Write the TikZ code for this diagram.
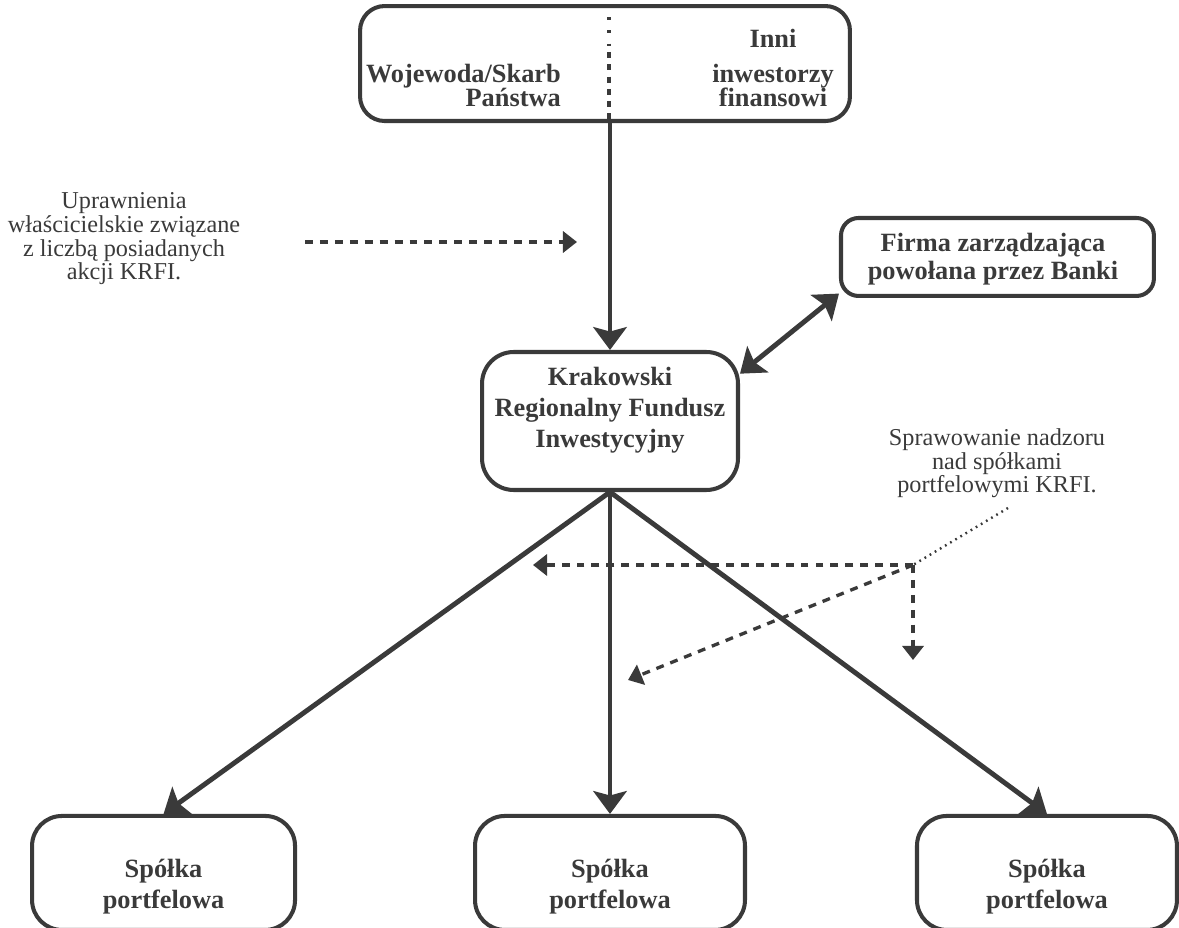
\documentclass[tikz,border=0pt]{standalone}
\usepackage{fontspec}
\setmainfont{Liberation Serif}
\usetikzlibrary{arrows.meta, positioning}
\definecolor{inkgray}{RGB}{58,58,58}
\tikzset{
>={Stealth[length=13pt, width=19pt, inset=2.5pt]}, % big solid arrow heads
box/.style={draw=inkgray, line width=2.3pt, rounded corners=15pt, inner sep=0pt}, % rounded frames
boxtext/.style={text=inkgray, align=center, font={\fontsize{15pt}{17.5pt}\selectfont\bfseries}}, % bold text in frames
note/.style={text=inkgray, align=center, font={\fontsize{13.8pt}{13.6pt}\selectfont}}, % side remarks
link/.style={->, draw=inkgray, line width=2.8pt}, % solid connectors
hint/.style={-{Triangle[length=8pt, width=12pt]}, draw=inkgray, line width=1.9pt, dash pattern=on 4.5pt off 4pt}, % dashed arrows
pointer/.style={draw=inkgray, line width=1.4pt, dash pattern=on 1pt off 2.4pt}, % dotted leader
divider/.style={draw=inkgray, line width=2pt, dash pattern=on 3.5pt off 3.5pt}, % split in the top frame
}
\begin{document}
\begin{tikzpicture}[x=0.02cm, y=-0.02cm]
\useasboundingbox (0,0) rectangle (1179,928);

% frames
\node[box, minimum width=5.12cm, minimum height=2.76cm, rounded corners=18pt] (krfi) at (610,421) {};
\node[box, minimum width=9.8cm, minimum height=2.3cm, rounded corners=14pt, above=4.54cm of krfi, xshift=-0.1cm] (top) {};
\node[box, minimum width=6.26cm, minimum height=1.56cm, rounded corners=10pt, above right=1.04cm and 1.98cm of krfi] (firma) {};
\node[box, minimum width=5.4cm, minimum height=2.28cm, rounded corners=17pt, below=6.44cm of krfi] (sp2) {};
\node[box, minimum width=5.26cm, minimum height=2.28cm, rounded corners=17pt, left=3.52cm of sp2] (sp1) {};
\node[box, minimum width=5.2cm, minimum height=2.28cm, rounded corners=17pt, right=3.36cm of sp2] (sp3) {};

% texts (anchor base = last line)
\node[boxtext, align=right, anchor=base east, font={\fontsize{15pt}{14pt}\selectfont\bfseries}] (woj) at (567,107) {Wojewoda/Skarb\\Państwa};
\node[boxtext, anchor=base, font={\fontsize{15pt}{14pt}\selectfont\bfseries}] (inni) at (773,107) {Inni\\[6pt]inwestorzy\\finansowi};
\node[boxtext, anchor=base, font={\fontsize{15pt}{17.9pt}\selectfont\bfseries}] (krfiText) at (610,448) {Krakowski\\Regionalny Fundusz\\Inwestycyjny};
\node[boxtext, anchor=base, font={\fontsize{15pt}{16.4pt}\selectfont\bfseries}] (firmaText) at (993,280) {Firma zarządzająca\\powołana przez Banki};
\node[boxtext, anchor=base] (sp1Text) at (sp1 |- 0,908) {Spółka\\portfelowa};
\node[boxtext, anchor=base] (sp2Text) at (sp2 |- 0,908) {Spółka\\portfelowa};
\node[boxtext, anchor=base] (sp3Text) at (sp3 |- 0,908) {Spółka\\portfelowa};
\node[note, anchor=base] (upr) at (124,280) {Uprawnienia\\właścicielskie związane\\z liczbą posiadanych\\akcji KRFI.};
\node[note, anchor=base] (nadzor) at (997,493) {Sprawowanie nadzoru\\nad spółkami\\portfelowymi KRFI.};

% free ends
\coordinate (div) at (609,0);
\coordinate (divMid) at (609,52);
\coordinate (uprA) at (305,242);
\coordinate (uprB) at (577,242);
\coordinate (tail) at (1008,508);
\coordinate (hub) at (913,565);
\coordinate (hubL) at (533,565);
\coordinate (hubD) at (913,660);
\coordinate (hubX) at (628,680);

% connectors
\draw[pointer, line width=1.8pt, dash pattern=on 1.5pt off 6pt] (div |- top.north) -- (divMid);
\draw[divider] (divMid) -- (div |- top.south);
\draw[link] (top.south -| krfi.north) -- (krfi.north);
\draw[link, <->] (krfi.20) -- (firma.193);
\draw[link] (krfi.south) -- (sp1.north);
\draw[link] (krfi.south) -- (sp2.north);
\draw[link] (krfi.south) -- (sp3.north);
\draw[hint] (uprA) -- (uprB);
\draw[pointer] (tail) -- (hub);
\draw[hint] (hub) -- (hubL);
\draw[hint] (hub) -- (hubD);
\draw[hint] (hub) -- (hubX);
\end{tikzpicture}
\end{document}
